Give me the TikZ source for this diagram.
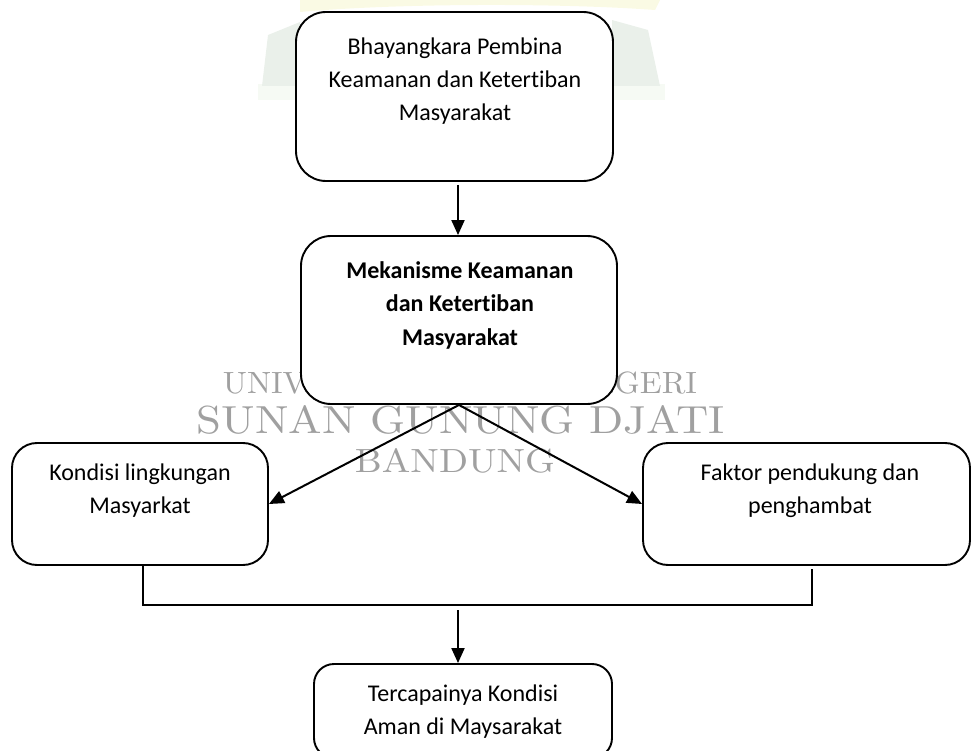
\documentclass[tikz,border=0pt]{standalone}
\usepackage{graphicx}
\usepackage{fontspec}
\setmainfont{Carlito}[RawFeature={-liga}]
\usetikzlibrary{arrows.meta}
\definecolor{wmgray}{RGB}{160,160,160}
\definecolor{logoyel}{RGB}{250,250,228}
\definecolor{logogrn}{RGB}{234,240,234}
\definecolor{logopale}{RGB}{246,250,244}
\begin{document}
\begin{tikzpicture}[x=1pt,y=-1pt,
  box/.style={draw=black,line width=1.9pt,fill=white,inner sep=0pt},
  txt/.style={align=center,inner sep=0pt,font=\fontsize{24}{33}\selectfont},
  arr/.style={line width=2pt,-{Triangle[length=15pt,width=13pt]}},
  conn/.style={line width=2pt},
  wm/.style={text=wmgray,inner sep=0pt,anchor=base,font=\fontfamily{lmr}\selectfont}]
\useasboundingbox (0,0) rectangle (972,751);
\clip (0,0) rectangle (972,751);
% faint logo remnants
\fill[logopale] (258,84) rectangle (665,100);
\fill[logogrn] (262,86) -- (268,35) -- (300,22) -- (300,86) -- cycle;
\fill[logogrn] (612,20) -- (648,30) -- (660,86) -- (612,86) -- cycle;
\fill[logoyel] (300,0) -- (660,0) -- (655,10) .. controls (560,3) and (400,3) .. (300,12) -- cycle;
% watermark
\node[wm] (wm1) at (460,393) {\resizebox{474pt}{22pt}{UNIVERSITAS ISLAM NEGERI}};
\node[wm] (wm2) at (461,433) {\resizebox{528pt}{28pt}{SUNAN GUNUNG DJATI}};
\node[wm] (wm3) at (455,472) {\resizebox{200pt}{24pt}{BANDUNG}};
% boxes
\node[box,rounded corners=30pt,minimum width=317pt,minimum height=169pt] (b1) at (454.5,96.5) {};
\node[txt] (t1) at (455,81) {Bhayangkara Pembina\\Keamanan dan Ketertiban\\Masyarakat};
\node[box,rounded corners=30pt,minimum width=316pt,minimum height=168pt] (b2) at (459,320) {};
\node[txt,font=\fontsize{24}{33.5}\selectfont\bfseries] (t2) at (460,305) {Mekanisme Keamanan\\dan Ketertiban\\Masyarakat};
\node[box,rounded corners=25pt,minimum width=256pt,minimum height=122pt] (b3) at (140,504) {};
\node[txt] (t3) at (140,491) {Kondisi lingkungan\\Masyarkat};
\node[box,rounded corners=25pt,minimum width=327pt,minimum height=122pt] (b4) at (806.5,504) {};
\node[txt] (t4) at (810,491) {Faktor pendukung dan\\penghambat};
\node[box,rounded corners=20pt,minimum width=298pt,minimum height=94pt] (b5) at (463,711) {};
\node[txt] (t5) at (463,712) {Tercapainya Kondisi\\Aman di Maysarakat};
% connectors
\coordinate (a1s) at (458,185);
\draw[arr] (a1s) -- (a1s |- b2.north);
\draw[arr] (b2.south) -- (b3.east);
\draw[arr] (b2.south) -- (b4.west);
\coordinate (jl) at (143,605);
\coordinate (jr) at (812,605);
\coordinate (jrt) at (812,569);
\coordinate (jm) at (458,605);
\coordinate (jms) at (458,610);
\draw[conn] (b3.south -| jl) -- (jl) -- (jr) -- (jrt);
\draw[arr] (jms) -- (jm |- b5.north);
\end{tikzpicture}
\end{document}
